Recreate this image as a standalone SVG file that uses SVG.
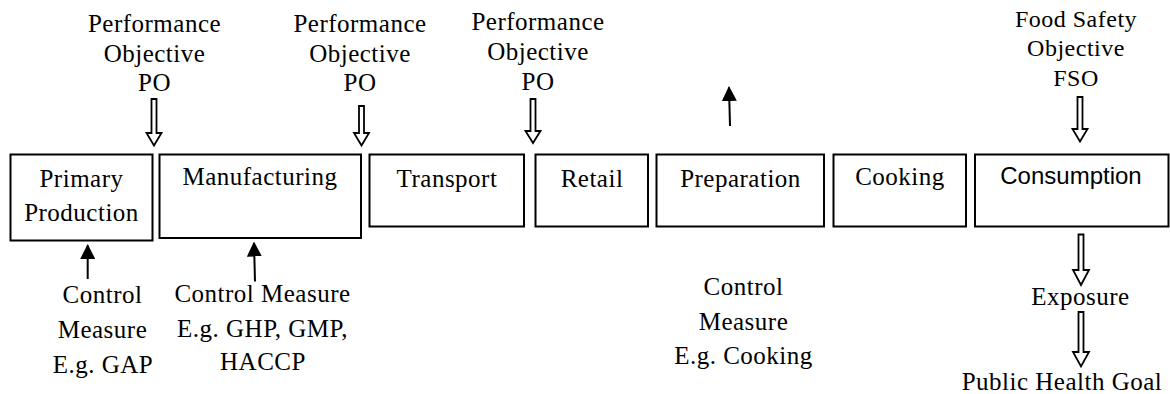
<svg xmlns="http://www.w3.org/2000/svg" width="1170" height="394" viewBox="0 0 1170 394">
  <style>
    .box { fill: #ffffff; stroke: #000000; stroke-width: 2; }
    .lbl { font-family: "Liberation Serif", "Times New Roman", serif; font-size: 25px; letter-spacing: 0.5px; fill: #000000; text-anchor: middle; }
    .sans { font-family: "Liberation Sans", Arial, sans-serif; font-size: 24px; fill: #000000; text-anchor: middle; }
    .hollow { fill: #ffffff; stroke: #000000; stroke-width: 1.8; stroke-linejoin: miter; }
    .solid { stroke: #000000; stroke-width: 2; fill: none; }
  </style>
  <defs>
    <marker id="head" viewBox="0 0 10 10" refX="9" refY="5" markerWidth="7.5" markerHeight="7.5" markerUnits="strokeWidth" orient="auto">
      <path d="M0,0 L10,5 L0,10 Z" fill="#000000"/>
    </marker>
  </defs>

  <rect width="1170" height="394" fill="#ffffff"/>

  <!-- process chain -->
  <g id="primary-production">
    <rect class="box" x="10.5" y="154.5" width="142" height="86"/>
    <text class="lbl" x="81.5" y="187">Primary</text>
    <text class="lbl" x="81.5" y="221">Production</text>
  </g>
  <g id="manufacturing">
    <rect class="box" x="159.5" y="154.5" width="201.5" height="83.5"/>
    <text class="lbl" x="260" y="185">Manufacturing</text>
  </g>
  <g id="transport">
    <rect class="box" x="369.5" y="154.5" width="154.5" height="72"/>
    <text class="lbl" x="447" y="187">Transport</text>
  </g>
  <g id="retail">
    <rect class="box" x="535.5" y="154.5" width="112.5" height="72"/>
    <text class="lbl" x="592" y="187">Retail</text>
  </g>
  <g id="preparation">
    <rect class="box" x="656.5" y="154.5" width="167.5" height="72"/>
    <text class="lbl" x="740.5" y="187">Preparation</text>
  </g>
  <g id="cooking">
    <rect class="box" x="833.5" y="154.5" width="132.5" height="72"/>
    <text class="lbl" x="900" y="185">Cooking</text>
  </g>
  <g id="consumption">
    <rect class="box" x="975" y="154.5" width="193.5" height="72"/>
    <text class="sans" x="1071" y="183.5">Consumption</text>
  </g>

  <!-- objectives above the chain -->
  <g id="po-1">
    <text class="lbl" x="154.5" y="32">Performance</text>
    <text class="lbl" x="154.5" y="62">Objective</text>
    <text class="lbl" x="154.5" y="91">PO</text>
  </g>
  <g id="po-2">
    <text class="lbl" x="360" y="32">Performance</text>
    <text class="lbl" x="360" y="62">Objective</text>
    <text class="lbl" x="360" y="91">PO</text>
  </g>
  <g id="po-3">
    <text class="lbl" x="538" y="29.5">Performance</text>
    <text class="lbl" x="538" y="59.5">Objective</text>
    <text class="lbl" x="538" y="89.5">PO</text>
  </g>
  <g id="fso">
    <text class="lbl" x="1076" y="27" style="font-size:24px">Food Safety</text>
    <text class="lbl" x="1076" y="56" style="font-size:24px">Objective</text>
    <text class="lbl" x="1076" y="86" style="font-size:24px">FSO</text>
  </g>

  <!-- control measures below the chain -->
  <g id="cm-gap">
    <text class="lbl" x="102.5" y="303">Control</text>
    <text class="lbl" x="102.5" y="338">Measure</text>
    <text class="lbl" x="103" y="372.5">E.g. GAP</text>
  </g>
  <g id="cm-ghp">
    <text class="lbl" x="262.5" y="301.5">Control Measure</text>
    <text class="lbl" x="262.5" y="336.5">E.g. GHP, GMP,</text>
    <text class="lbl" x="263" y="370">HACCP</text>
  </g>
  <g id="cm-cooking">
    <text class="lbl" x="743.5" y="295">Control</text>
    <text class="lbl" x="743.5" y="329.5">Measure</text>
    <text class="lbl" x="743.5" y="363.5">E.g. Cooking</text>
  </g>
  <g id="exposure">
    <text class="lbl" x="1080.5" y="305">Exposure</text>
  </g>
  <g id="public-health-goal">
    <text class="lbl" x="1062" y="390">Public Health Goal</text>
  </g>

  <!-- connectors -->
  <g id="connectors">
    <!-- hollow block arrows -->
    <path class="hollow" d="M151.5,99 H156.5 V133 H161.5 L154,145.5 L146.5,133 H151.5 Z"/>
    <path class="hollow" d="M359,106 H364 V133 H369 L361.5,145.5 L354,133 H359 Z"/>
    <path class="hollow" d="M530.5,99 H535.5 V131 H540.5 L533,143 L525.5,131 H530.5 Z"/>
    <path class="hollow" d="M1077.5,97 H1082.5 V129 H1087.5 L1080,141.5 L1072.5,129 H1077.5 Z"/>
    <path class="hollow" d="M1078.5,234.5 H1083.5 V270 H1089 L1081,285 L1073,270 H1078.5 Z"/>
    <path class="hollow" d="M1078.5,312 H1083.5 V352 H1089 L1081,366.5 L1073,352 H1078.5 Z"/>
    <!-- solid arrows -->
    <line class="solid" x1="730" y1="126" x2="729" y2="87.5" marker-end="url(#head)"/>
    <line class="solid" x1="87.7" y1="279" x2="87.7" y2="245.5" marker-end="url(#head)"/>
    <line class="solid" x1="255" y1="281.5" x2="254" y2="243" marker-end="url(#head)"/>
  </g>
</svg>
